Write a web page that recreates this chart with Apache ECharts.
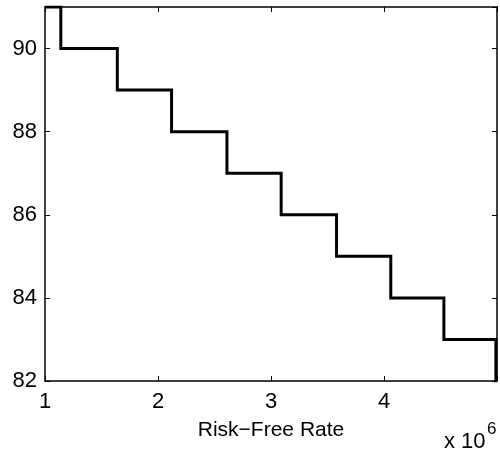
<!DOCTYPE html>
<html>
<head>
<meta charset="utf-8">
<script src="https://cdn.jsdelivr.net/npm/echarts@6/dist/echarts.min.js"></script>
<style>
  html, body { margin: 0; padding: 0; background: #fff; }
  #chart { width: 500px; height: 453px; }
</style>
</head>
<body>
<div id="chart"></div>
<script>
// Step levels of the curve and the rates at which it drops to the next level
const levels = [91, 90, 89, 88, 87, 86, 85, 84, 83, 82];
const dropRates = [1.14e6, 1.64e6, 2.12e6, 2.61e6, 3.09e6, 3.58e6, 4.06e6, 4.53e6, 4.99e6];
const xTicks = [1e6, 2e6, 3e6, 4e6];
const yTicks = [82, 84, 86, 88, 90];
const xRange = [1e6, 5e6];
const yRange = [82, 91];

// Build the staircase path from the levels and drop points
const stepData = [[xRange[0], levels[0]]];
dropRates.forEach((x, i) => {
  stepData.push([x, levels[i]]);
  stepData.push([x, levels[i + 1]]);
});
stepData.push([xRange[1], levels[levels.length - 1]]);

const FONT = 'Liberation Sans, Arial, sans-serif';
const axisCommon = {
  type: 'value',
  axisLine: { show: true, onZero: false, lineStyle: { color: '#000', width: 1.5 } },
  axisTick: { show: true, inside: true, length: 5, lineStyle: { color: '#000', width: 1 } },
  splitLine: { show: false }
};

const chart = echarts.init(document.getElementById('chart'));
chart.setOption({
  animation: false,
  backgroundColor: '#fff',
  grid: { left: 45, right: 2, top: 7, bottom: 72, containLabel: false },
  xAxis: [
    Object.assign({}, axisCommon, {
      position: 'bottom',
      min: xRange[0], max: xRange[1], interval: 1e6,
      axisLabel: {
        color: '#000', fontFamily: FONT, fontSize: 22, margin: 10,
        formatter: v => (xTicks.includes(v) ? String(v / 1e6) : '')
      },
      name: 'Risk\u2212Free Rate',
      nameLocation: 'middle',
      nameGap: 39,
      nameTextStyle: { color: '#000', fontFamily: FONT, fontSize: 21 }
    }),
    Object.assign({}, axisCommon, {
      position: 'top',
      min: xRange[0], max: xRange[1], interval: 1e6,
      axisLabel: { show: false }
    })
  ],
  yAxis: [
    Object.assign({}, axisCommon, {
      position: 'left',
      min: yRange[0], max: yRange[1], interval: 2,
      axisLabel: {
        color: '#000', fontFamily: FONT, fontSize: 22, margin: 8,
        formatter: v => (yTicks.includes(v) ? String(v) : '')
      }
    }),
    Object.assign({}, axisCommon, {
      position: 'right',
      min: yRange[0], max: yRange[1], interval: 2,
      axisLabel: { show: false }
    })
  ],
  graphic: [
    { type: 'text', left: 444, top: 431, style: { text: 'x 10', fill: '#000', font: '22px ' + FONT } },
    { type: 'text', left: 487, top: 421, style: { text: '6', fill: '#000', font: '17px ' + FONT } }
  ],
  series: [{
    type: 'line',
    data: stepData,
    showSymbol: false,
    symbol: 'none',
    clip: true,
    lineStyle: { color: '#000', width: 3, join: 'miter' },
    xAxisIndex: 0,
    yAxisIndex: 0
  }]
});
</script>
</body>
</html>
